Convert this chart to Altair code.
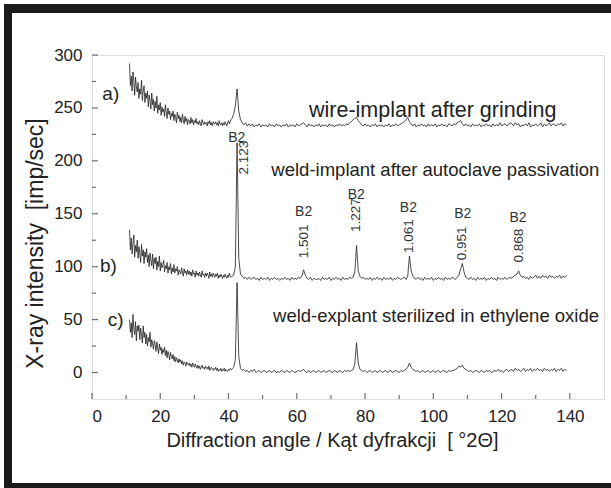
import altair as alt
import pandas as pd

# ---------------- data ----------------
# Low-angle part of every trace: 11.0 ... 40.75 deg, step 0.25
LOW_START, LOW_STEP = 11.0, 0.25
# High-angle part of every trace: 41.0 ... 139.0 deg, step 0.5
HIGH_START, HIGH_STEP = 41.0, 0.5

# a) wire-implant after grinding
wire_low = [
    292, 271, 280, 266, 284, 275, 262, 279, 270, 265,
    274, 259, 268, 263, 276, 257, 266, 271, 255, 264,
    259, 266, 251, 262, 257, 249, 264, 253, 258, 247,
    256, 250, 261, 245, 253, 248, 255, 243, 251, 246,
    249, 242, 253, 246, 240, 250, 244, 247, 239, 245,
    242, 247, 238, 244, 241, 236, 246, 240, 243, 237,
    241, 236, 244, 239, 235, 242, 237, 240, 234, 239,
    238, 235, 241, 236, 239, 234, 238, 236, 240, 235,
    237, 234, 238, 235, 233, 239, 236, 234, 237, 235,
    236, 233, 237, 235, 238, 234, 236, 233, 237, 235,
    235, 237, 234, 236, 233, 238, 235, 234, 236, 233,
    236, 234, 237, 235, 233, 236, 238, 235, 237, 239,
]
wire_high = [
    240, 244, 252, 268, 247, 239, 236, 234, 236, 233,
    235, 233, 235, 232, 234, 233, 235, 232, 234, 233,
    234, 232, 235, 233, 234, 232, 235, 233, 234, 232,
    234, 233, 235, 232, 234, 233, 234, 232, 235, 233,
    234, 235, 236, 234, 232, 235, 233, 234, 232, 234,
    233, 235, 232, 234, 233, 234, 232, 235, 233, 234,
    232, 234, 233, 235, 233, 234, 233, 235, 234, 236,
    237, 239, 240, 241, 238, 236, 234, 233, 235, 233,
    234, 232, 234, 233, 235, 232, 234, 233, 234, 232,
    234, 233, 235, 232, 234, 233, 235, 233, 234, 235,
    236, 237, 239, 241, 237, 235, 233, 235, 232, 234,
    233, 235, 233, 234, 232, 235, 233, 234, 233, 235,
    232, 234, 233, 235, 233, 234, 232, 235, 234, 233,
    235, 234, 236, 237, 238, 235, 233, 235, 233, 234,
    232, 235, 233, 234, 233, 235, 232, 234, 233, 235,
    233, 234, 232, 235, 233, 234, 233, 236, 233, 234,
    235, 233, 234, 236, 235, 233, 236, 234, 235, 232,
    234, 233, 235, 233, 236, 232, 234, 233, 235, 233,
    234, 236, 232, 235, 233, 234, 236, 233, 235, 234,
    233, 235, 234, 236, 233, 235, 234,
]

# b) weld-implant after autoclave passivation
implant_low = [
    135, 116, 127, 112, 122, 130, 109, 120, 114, 125,
    108, 119, 113, 104, 121, 110, 116, 103, 114, 109,
    117, 104, 111, 100, 113, 106, 101, 112, 98, 108,
    103, 109, 97, 105, 100, 110, 96, 104, 99, 102,
    106, 95, 101, 98, 104, 94, 100, 97, 103, 93,
    99, 95, 102, 94, 98, 96, 100, 92, 97, 95,
    93, 99, 95, 91, 98, 94, 96, 92, 97, 93,
    96, 92, 95, 91, 97, 93, 94, 90, 96, 92,
    94, 91, 95, 92, 90, 96, 92, 93, 90, 94,
    91, 94, 92, 89, 95, 91, 93, 90, 94, 92,
    90, 93, 91, 94, 89, 92, 90, 93, 91, 89,
    92, 90, 93, 91, 89, 92, 90, 94, 91, 90,
]
implant_high = [
    91, 92, 100, 217, 108, 93, 91, 89, 90, 88,
    90, 88, 89, 90, 88, 89, 87, 90, 88, 89,
    88, 90, 87, 89, 88, 90, 88, 89, 87, 89,
    88, 90, 88, 89, 87, 90, 88, 89, 88, 90,
    89, 91, 97, 92, 89, 88, 90, 87, 89, 88,
    88, 89, 87, 90, 88, 89, 88, 90, 87, 89,
    88, 90, 88, 89, 87, 90, 88, 89, 88, 90,
    89, 90, 95, 120, 96, 91, 89, 90, 88, 89,
    88, 90, 87, 89, 88, 90, 88, 89, 87, 90,
    88, 89, 88, 90, 87, 89, 88, 90, 89, 88,
    89, 90, 88, 91, 110, 96, 91, 89, 88, 90,
    88, 89, 87, 90, 88, 89, 88, 90, 87, 89,
    88, 90, 88, 89, 87, 90, 88, 89, 88, 90,
    89, 88, 90, 92, 98, 103, 95, 90, 89, 88,
    90, 88, 89, 87, 90, 88, 89, 88, 90, 87,
    89, 88, 90, 88, 89, 87, 90, 88, 89, 88,
    90, 88, 89, 90, 89, 91, 92, 93, 96, 92,
    90, 91, 89, 90, 88, 91, 89, 90, 92, 89,
    91, 89, 92, 90, 91, 89, 92, 90, 91, 89,
    91, 90, 92, 89, 91, 90, 92,
]

# c) weld-explant sterilized in ethylene oxide
explant_low = [
    50, 38, 47, 33, 55, 41, 36, 48, 30, 44,
    39, 45, 31, 42, 36, 28, 44, 33, 38, 27,
    36, 25, 33, 29, 38, 24, 31, 27, 22, 30,
    26, 20, 29, 23, 18, 27, 21, 24, 17, 22,
    19, 24, 16, 21, 14, 20, 17, 12, 19, 15,
    13, 17, 11, 15, 10, 14, 12, 9, 13, 10,
    12, 8, 11, 7, 10, 9, 6, 10, 8, 7,
    9, 6, 8, 5, 9, 7, 5, 8, 6, 4,
    7, 4, 6, 3, 5, 7, 4, 5, 3, 6,
    4, 5, 3, 6, 2, 4, 5, 3, 2, 4,
    3, 5, 2, 4, 1, 3, 2, 4, 1, 3,
    2, 4, 1, 3, 2, 1, 3, 2, 4, 3,
]
explant_high = [
    3, 5, 12, 85, 15, 4, 2, 3, 1, 2,
    0, 2, 1, 3, 0, 1, 2, 0, 1, 2,
    0, 1, 2, 0, 1, 2, 0, 1, 0, 2,
    1, 0, 2, 1, 0, 2, 1, 0, 1, 2,
    1, 2, 3, 1, 0, 2, 0, 1, 2, 0,
    1, 2, 0, 1, 2, 0, 1, 2, 1, 0,
    2, 1, 0, 2, 1, 0, 2, 1, 2, 1,
    2, 3, 8, 28, 9, 3, 2, 1, 2, 0,
    1, 2, 0, 1, 2, 0, 1, 2, 0, 1,
    2, 0, 1, 2, 0, 1, 2, 1, 0, 2,
    1, 2, 3, 5, 9, 5, 3, 2, 1, 2,
    0, 1, 2, 0, 1, 2, 0, 1, 2, 0,
    1, 2, 0, 1, 2, 1, 0, 2, 1, 2,
    2, 3, 4, 6, 5, 7, 4, 3, 2, 1,
    2, 0, 1, 2, 1, 0, 2, 1, 0, 2,
    1, 2, 0, 1, 2, 1, 3, 1, 2, 0,
    2, 3, 1, 2, 3, 1, 4, 2, 3, 1,
    2, 4, 1, 3, 2, 4, 1, 3, 2, 4,
    2, 3, 1, 4, 2, 3, 1, 3, 2, 4,
    1, 3, 2, 4, 1, 3, 2,
]

series = {
    "a": (wire_low, wire_high),
    "b": (implant_low, implant_high),
    "c": (explant_low, explant_high),
}

# trace labels a), b), c)
tag_text = ["a)", "b)", "c)"]
tag_x = [5.5, 4.8, 6.9]
tag_y = [263, 101, 50]

# sample descriptions
desc_text = [
    "wire-implant after grinding",
    "weld-implant after autoclave passivation",
    "weld-explant sterilized in ethylene oxide",
]
desc_x = [99.8, 100.6, 100.8]
desc_y = [247, 191, 53]
desc_size = [21.5, 18.5, 18.5]

# B2 reflections with their d-spacings
b2_x = [42.4, 62.0, 77.4, 92.7, 108.6, 124.8]
b2_y = [222, 151.5, 167.5, 155.3, 149.6, 146]
d_text = ["2.123", "1.501", "1.227", "1.061", "0.951", "0.868"]
d_x = [44.6, 62.0, 77.4, 92.8, 108.3, 125.0]
d_y = [203, 124, 148.7, 128.9, 122, 120]

x_major = [0, 20, 40, 60, 80, 100, 120, 140]
x_minor = [10, 30, 50, 70, 90, 110, 130]
y_major = [0, 50, 100, 150, 200, 250, 300]
y_minor = [25, 75, 125, 175, 225, 275]

# ---------------- build tables ----------------
rows = []
for name, (low, high) in series.items():
    for i, v in enumerate(low):
        rows.append({"angle": LOW_START + LOW_STEP * i, "intensity": v, "series": name})
    for i, v in enumerate(high):
        rows.append({"angle": HIGH_START + HIGH_STEP * i, "intensity": v, "series": name})
df = pd.DataFrame(rows)

tags = pd.DataFrame({"angle": tag_x, "intensity": tag_y, "t": tag_text})
descs = pd.DataFrame({"angle": desc_x, "intensity": desc_y, "t": desc_text, "fs": desc_size})
b2 = pd.DataFrame({"angle": b2_x, "intensity": b2_y, "t": ["B2"] * len(b2_x)})
dsp = pd.DataFrame({"angle": d_x, "intensity": d_y, "t": d_text})

W, H = 512, 344
PAD_L, PAD_T, PAD_R, PAD_B = 92, 55, 7, 89
FONT = "Liberation Sans"
INK = "#222222"
NB = "\u00a0"

xs = alt.Scale(domain=[0, 150], nice=False, zero=False)
ys = alt.Scale(domain=[-25, 300], nice=False, zero=False)

x_axis = alt.Axis(
    values=x_major, ticks=False, domain=False, grid=False,
    labelPadding=9, labelFontSize=17, labelColor=INK, labelFont=FONT,
    title="Diffraction angle / Kąt dyfrakcji" + NB + NB + "[" + NB + "°2Θ]",
    titleFontSize=20, titleFontWeight="normal", titleColor=INK, titleFont=FONT,
    titleX=240, titleY=41, titleBaseline="middle",
)
y_axis = alt.Axis(
    values=y_major, ticks=False, domain=False, grid=False,
    labelPadding=10, labelFontSize=17, labelColor=INK, labelFont=FONT,
    title="X-ray intensity" + NB + NB + "[imp/sec]",
    titleFontSize=23, titleFontWeight="normal", titleColor=INK, titleFont=FONT,
    titleX=-57, titleY=188, titleAngle=270, titleBaseline="middle", titleAlign="center",
)

X = alt.X("angle:Q", scale=xs, axis=x_axis)
Y = alt.Y("intensity:Q", scale=ys, axis=y_axis)

lines = alt.Chart(df).mark_line(color="#1e1e1e", strokeWidth=0.8).encode(
    x=X, y=Y, detail="series:N", order="angle:Q",
)

def tick_layer(vals, axis_name, length):
    if axis_name == "y":
        d = pd.DataFrame({"intensity": vals})
        return alt.Chart(d).mark_tick(orient="horizontal", size=length, thickness=1.2, color="#333333").encode(
            y=Y, x=alt.value(length / 2))
    d = pd.DataFrame({"angle": vals})
    return alt.Chart(d).mark_tick(orient="vertical", size=length, thickness=1.2, color="#333333").encode(
        x=X, y=alt.value(H - length / 2))

ticks = [
    tick_layer(y_major, "y", 6), tick_layer(y_minor, "y", 4),
    tick_layer(x_major, "x", 6), tick_layer(x_minor, "x", 4),
]

tag_layer = alt.Chart(tags).mark_text(font=FONT, fontSize=19, color=INK, align="center", baseline="middle").encode(
    x=X, y=Y, text="t:N")

desc_layer = alt.Chart(descs).mark_text(font=FONT, color=INK, align="center", baseline="middle").encode(
    x=X, y=Y, text="t:N", size=alt.Size("fs:Q", scale=None, legend=None))

b2_layer = alt.Chart(b2).mark_text(font=FONT, fontSize=14, color="#333333", align="center", baseline="middle").encode(
    x=X, y=Y, text="t:N")

d_layer = alt.Chart(dsp).mark_text(font=FONT, fontSize=13.5, color="#333333", align="center", baseline="middle", angle=270).encode(
    x=X, y=Y, text="t:N")

# black scan frame, kept strictly inside the 611x488 canvas
one = pd.DataFrame({"k": [0]})
BORDER = "#1a1a1a"
left_edge = -PAD_L + 4          # page x = 4
right_edge = W + PAD_R          # page x = 611
top_edge = -PAD_T + 4           # page y = 4
bottom_edge = H + PAD_B         # page y = 488
frame_top = alt.Chart(one).mark_rule(color=BORDER, strokeWidth=9).encode(
    x=alt.value(left_edge), x2=alt.value(right_edge), y=alt.value(top_edge + 4.5), y2=alt.value(top_edge + 4.5))
frame_left = alt.Chart(one).mark_rule(color=BORDER, strokeWidth=8).encode(
    x=alt.value(left_edge + 4), x2=alt.value(left_edge + 4), y=alt.value(top_edge), y2=alt.value(bottom_edge))
frame_bottom = alt.Chart(one).mark_rule(color=BORDER, strokeWidth=5).encode(
    x=alt.value(left_edge), x2=alt.value(right_edge), y=alt.value(bottom_edge - 2.5), y2=alt.value(bottom_edge - 2.5))

chart = alt.layer(
    lines, *ticks, tag_layer, desc_layer, b2_layer, d_layer,
    frame_top, frame_left, frame_bottom,
).properties(
    width=W, height=H,
    autosize=alt.AutoSizeParams(type="none"),
    padding={"left": PAD_L, "top": PAD_T, "right": PAD_R, "bottom": PAD_B},
).configure_view(stroke="#444444", strokeWidth=1.3).configure(background="white", font=FONT)

chart.save("out.html", embed_options={"renderer": "svg", "actions": False})
